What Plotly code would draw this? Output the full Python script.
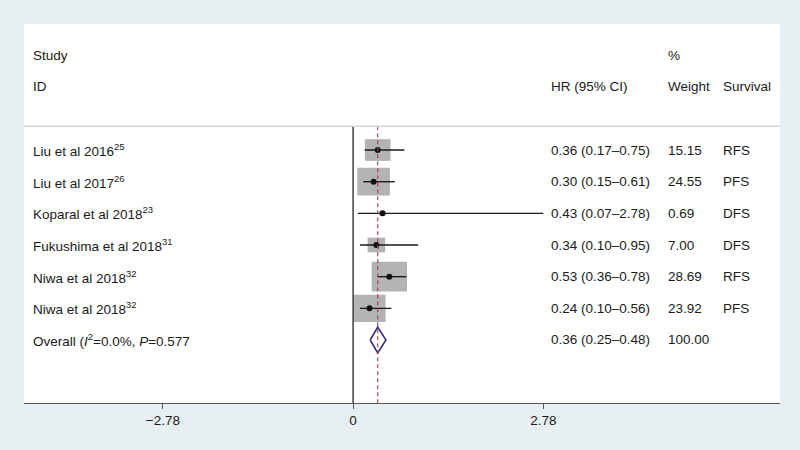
import plotly.graph_objects as go

# Study-level data
studies = [
    "Liu et al 2016<sup>25</sup>",
    "Liu et al 2017<sup>26</sup>",
    "Koparal et al 2018<sup>23</sup>",
    "Fukushima et al 2018<sup>31</sup>",
    "Niwa et al 2018<sup>32</sup>",
    "Niwa et al 2018<sup>32</sup>",
]
hr = [0.36, 0.30, 0.43, 0.34, 0.53, 0.24]
ci_low = [0.17, 0.15, 0.07, 0.10, 0.36, 0.10]
ci_high = [0.75, 0.61, 2.78, 0.95, 0.78, 0.56]
weights = [15.15, 24.55, 0.69, 7.00, 28.69, 23.92]
survival = ["RFS", "PFS", "DFS", "DFS", "RFS", "PFS"]

# Pooled estimate
overall_label = "Overall (<i>I</i><sup>2</sup>=0.0%, <i>P</i>=0.577"
overall_hr = 0.36
overall_low = 0.25
overall_high = 0.48
overall_weight = "100.00"

tick_vals = [-2.78, 0, 2.78]
tick_text = ["\u22122.78", "0", "2.78"]

FONT = "Liberation Sans, Arial, sans-serif"
TXT = "#1a1a1a"
FS = 13.5
X_RANGE = [-4.81, 6.24]
Y_RANGE = [7.99, -3.98]
HEAD_LINE = -0.75

rows = list(range(len(studies)))
overall_row = len(studies)

fig = go.Figure()

# weight boxes (area proportional to weight)
for r, h, w in zip(rows, hr, weights):
    hw = 0.0482 * w ** 0.5
    hh = 0.088 * w ** 0.5
    fig.add_shape(type="rect", xref="x", yref="y",
                  x0=h - hw, x1=h + hw, y0=r - hh, y1=r + hh,
                  fillcolor="#b3b3b3", line=dict(width=0), layer="below")

# confidence intervals
ci_x, ci_y = [], []
for r, lo, hi in zip(rows, ci_low, ci_high):
    ci_x += [lo, hi, None]
    ci_y += [r, r, None]
fig.add_trace(go.Scatter(x=ci_x, y=ci_y, mode="lines",
                         line=dict(color="#1a1a1a", width=1.4),
                         hoverinfo="skip", showlegend=False))

# point estimates
fig.add_trace(go.Scatter(x=hr, y=rows, mode="markers",
                         marker=dict(color="#111111", size=6),
                         showlegend=False))

# pooled diamond
fig.add_trace(go.Scatter(
    x=[overall_low, overall_hr, overall_high, overall_hr, overall_low],
    y=[overall_row, overall_row - 0.41, overall_row, overall_row + 0.41, overall_row],
    mode="lines", fill="toself", fillcolor="white",
    line=dict(color="#35307a", width=1.6), showlegend=False))

# null line and pooled-estimate line
fig.add_shape(type="line", xref="x", yref="y", x0=0, x1=0,
              y0=HEAD_LINE, y1=Y_RANGE[0], line=dict(color="#111111", width=1.2))
fig.add_shape(type="line", xref="x", yref="y", x0=overall_hr, x1=overall_hr,
              y0=HEAD_LINE, y1=Y_RANGE[0],
              line=dict(color="#a0404c", width=1.1, dash="4px,3px"))

# header separator
fig.add_shape(type="line", xref="paper", yref="y", x0=0, x1=1,
              y0=HEAD_LINE, y1=HEAD_LINE, line=dict(color="#d4d4d4", width=1.5))


def px_to_paper(px):
    return (px - 24) / 756


col_study = px_to_paper(31)
col_hr = px_to_paper(549)
col_weight = px_to_paper(666)
col_surv = px_to_paper(720.7)


def add_text(text, x, y):
    fig.add_annotation(text=text, x=x, y=y, xref="paper", yref="y",
                       xanchor="left", yanchor="middle", showarrow=False,
                       font=dict(family=FONT, size=FS, color=TXT))


# headers
add_text("Study", col_study, -3)
add_text("ID", col_study, -2)
add_text("%", col_weight, -3)
add_text("HR (95% CI)", col_hr, -2)
add_text("Weight", col_weight, -2)
add_text("Survival", col_surv, -2)

# study rows
for r, name, h, lo, hi, w, s in zip(rows, studies, hr, ci_low, ci_high, weights, survival):
    add_text(name, col_study, r)
    add_text(f"{h:.2f} ({lo:.2f}\u2013{hi:.2f})", col_hr, r)
    add_text(f"{w:.2f}", col_weight, r)
    add_text(s, col_surv, r)

add_text(overall_label, col_study, overall_row)
add_text(f"{overall_hr:.2f} ({overall_low:.2f}\u2013{overall_high:.2f})", col_hr, overall_row)
add_text(overall_weight, col_weight, overall_row)

fig.update_xaxes(range=X_RANGE, tickvals=tick_vals, ticktext=tick_text,
                 showgrid=False, zeroline=False, showline=True,
                 linecolor="#555555", linewidth=1.2,
                 ticks="outside", ticklen=5, tickcolor="#555555",
                 tickfont=dict(family=FONT, size=FS, color=TXT))
fig.update_yaxes(range=Y_RANGE, showgrid=False, zeroline=False,
                 showticklabels=False, showline=False)

fig.update_layout(
    width=800, height=450,
    margin=dict(l=24, r=20, t=24, b=47),
    paper_bgcolor="#e8eff3",
    plot_bgcolor="white",
    showlegend=False,
)

# drop the default page margin so the figure sits at the window origin
fig.write_html("out.html", config={"displayModeBar": False},
               post_script="document.body.style.margin='0';")
